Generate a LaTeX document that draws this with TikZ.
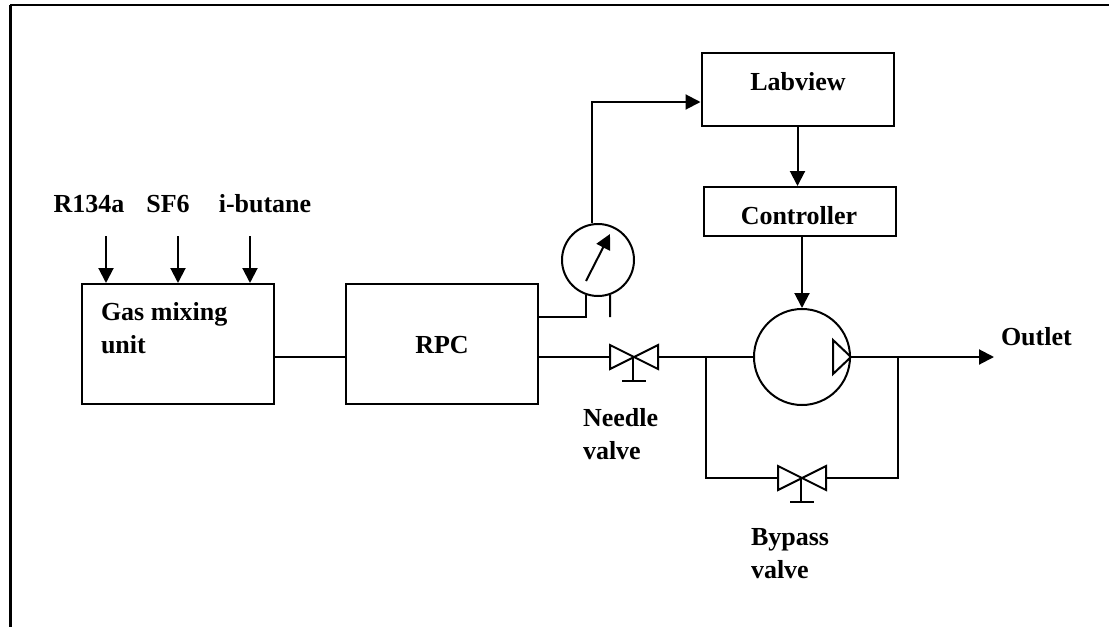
\documentclass[tikz,border=0pt]{standalone}
\usepackage{fontspec}
\setmainfont{Liberation Serif}
\usetikzlibrary{positioning,arrows.meta}

\begin{document}
\begin{tikzpicture}[x=.5pt,y=-.5pt,line width=1pt,
>={Triangle[length=7.5pt,width=7.5pt]},
txt/.style={font=\fontsize{13}{16.5}\selectfont\bfseries,inner sep=0pt,align=left},
box/.style={draw,rectangle,inner sep=0pt},
dial/.style={draw,circle,inner sep=0pt},
valve/.pic={
    \coordinate (-l) at (-24,0);
    \coordinate (-r) at (24,0);
    \draw (-24,-12) -- (24,12) -- (24,-12) -- (-24,12) -- cycle;
    \draw (-1,0) -- (-1,24);
    \draw (-12,24) -- (12,24);
}]
\useasboundingbox (0,0) rectangle (1109,627);
% frame, open on the right and at the bottom
\coordinate (framecorner) at (10,5);
\coordinate (frameright) at (1109,5);
\coordinate (framebottom) at (10,627);
\draw (frameright) -- (framecorner);
\draw [line width=1.5pt] (framecorner) -- (framebottom);

\node (gas) [box,minimum width=96pt,minimum height=60pt] at (178,344) {};
\node (gastxt) [txt,anchor=north west,below right=9pt and 9.5pt of gas.north west] {Gas mixing \\ unit};
\node (rpc) [box,minimum width=96pt,minimum height=60pt,right=35pt of gas] {};
\node (rpctxt) [txt,anchor=base] at (442,353) {RPC};
\node (labview) [box,minimum width=96pt,minimum height=36.5pt] at (797.5,89.5) {};
\node (labviewtxt) [txt,anchor=base] at (798,90) {Labview};
\node (controller) [box,minimum width=96pt,minimum height=24.5pt] at (799.5,211.5) {};
\node (controllertxt) [txt,anchor=base] at (799,224) {Controller};
\node (gauge) [dial,minimum size=36pt] at (598,260) {};
\node (pump) [dial,minimum size=48pt] at (802,357) {};

% gas inputs
\node (rtxt) [txt,anchor=base] at (89,212) {R134a};
\node (sftxt) [txt,anchor=base] at (168,212) {SF6};
\node (butanetxt) [txt,anchor=base] at (265,212) {i-butane};
\coordinate (rin) at (106,236);
\coordinate (sfin) at (178,236);
\coordinate (butanein) at (250,236);
\draw [->] (rin) -- (rin |- gas.north);
\draw [->] (sfin) -- (sfin |- gas.north);
\draw [->] (butanein) -- (butanein |- gas.north);
\coordinate (gasout) at (gas.east |- 0,357);
\draw (gasout) -- (gasout -| rpc.west);

% valves
\pic (needle) at (634,357) {valve};
\pic (bypass) at (802,478) {valve};
\node (needletxt) [txt,anchor=north west] at (582,407) {Needle \\ valve};
\node (bypasstxt) [txt,anchor=north west] at (750,527) {Bypass \\ valve};

% gas line
\coordinate (rpcout) at (rpc.east |- 0,357);
\coordinate (rpcport) at (rpc.east |- 0,317);
\coordinate (lefttee) at (706,357);
\coordinate (righttee) at (898,357);
\coordinate (outletin) at (994,357);
\node (outlettxt) [txt,right=3pt of outletin,yshift=10pt] {Outlet};
\draw (rpcout) -- (needle-l);
\draw (needle-r) -- (pump.west);
\draw [->] (pump.east) -- (outletin);
\draw (lefttee) |- (bypass-l);
\draw (righttee) |- (bypass-r);
\draw (pump.east) -- (833,340) -- (833,374) -- cycle;

% pressure gauge
\coordinate (gaugefree) at (610,317);
\coordinate (labin) at (labview.west |- 0,102);
\coordinate (tailpt) at (586,281);
\coordinate (tippt) at (610,234);
\draw (rpcport) -| (gauge.251);
\draw (gauge.289) -- (gaugefree);
\draw [->] (tailpt) -- (tippt);
\draw [->] (gauge.99) |- (labin);

% control
\draw [->] (labview.south) -- (labview.south |- controller.north);
\draw [->] (pump.north |- controller.south) -- (pump.north);
\end{tikzpicture}
\end{document}
